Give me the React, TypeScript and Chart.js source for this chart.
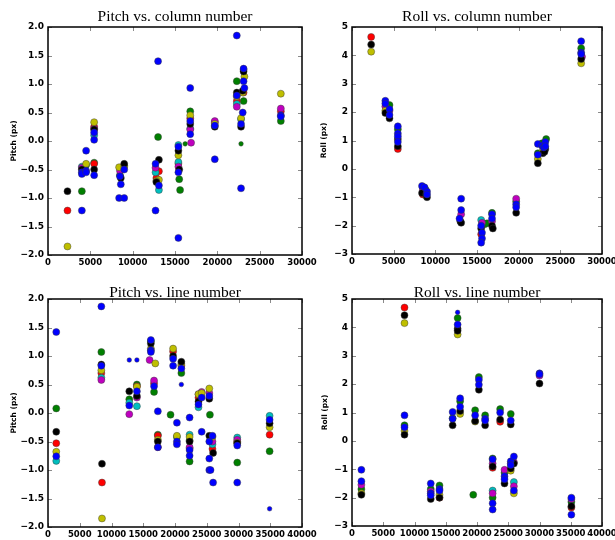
import { useEffect, useRef } from "react";
import { Chart, registerables } from "chart.js";
Chart.register(...registerables);

type P = [number, number];

const COLORS: Record<string, string> = {
  blue: "#0000ff",
  green: "#008000",
  red: "#ff0000",
  cyan: "#00bfbf",
  magenta: "#bf00bf",
  yellow: "#bfbf00",
  black: "#000000",
};

// ---------- Pitch vs. column number ----------
const pcGreen: P[] = [[4000,-0.88],[4500,-0.42],[5450,-0.38],[8500,-0.6],[9000,-0.43],[13000,0.07],[15500,-0.67],[15600,-0.86],[16800,0.52],[22300,1.05],[23100,1.25],[23100,0.7],[27500,0.35]];
const pcGreenSmall: P[] = [[16200,-0.05],[22800,-0.05]];
const pcRed: P[] = [[2300,-1.22],[5450,0.25],[5450,-0.4],[12800,-0.65],[13100,-0.53],[15400,-0.4],[16800,0.4],[19700,0.33],[22300,0.7],[23100,0.85],[27500,0.52]];
const pcCyan: P[] = [[4000,-0.45],[5450,0.1],[12700,-0.55],[13100,-0.86],[15400,-0.07],[15400,-0.37],[16800,0.22],[22300,0.65],[22800,0.38]];
const pcMagenta: P[] = [[4000,-0.47],[5450,0.22],[8500,-0.52],[12700,-0.47],[15400,-0.45],[16800,0.2],[16900,-0.03],[19700,0.35],[22300,0.6],[27500,0.57]];
const pcYellow: P[] = [[2300,-1.85],[4500,-0.4],[5450,0.33],[8400,-0.46],[9000,-0.45],[13100,-0.68],[12800,-0.7],[15400,-0.25],[16800,0.45],[19700,0.3],[22300,0.78],[22800,0.4],[23200,1.13],[23000,0.85],[27500,0.83]];
const pcBlack: P[] = [[2300,-0.88],[4000,-0.5],[5450,0.2],[5450,-0.5],[8600,-0.65],[9000,-0.4],[12800,-0.72],[13100,-0.33],[15400,-0.17],[15500,-0.5],[16800,0.3],[19700,0.25],[22300,0.85],[22800,0.25],[23100,1.22],[23000,0.88]];
const pcBlue: P[] = [[4000,-1.22],[4000,-0.55],[4000,-0.58],[4500,-0.52],[4500,-0.55],[4500,-0.17],[5450,0.15],[5450,0.02],[5450,-0.6],[8500,-0.62],[8600,-0.76],[8400,-1.0],[9000,-1.0],[9000,-0.5],[12700,-1.22],[12700,-0.4],[13000,1.4],[13100,-0.78],[15400,-1.7],[15400,-0.1],[15400,-0.55],[16800,0.93],[16800,0.35],[16800,0.12],[19700,0.27],[19700,-0.32],[22300,1.85],[22300,0.8],[22800,-0.83],[22800,0.3],[23100,1.27],[23100,1.05],[23200,0.93],[23000,0.5],[27500,0.45],[27500,0.43]];

// ---------- Roll vs. column number ----------
const rcGreen: P[] = [[4500,2.25],[5500,1.4],[8500,-0.65],[8800,-0.72],[15900,-1.95],[16200,-1.92],[16800,-1.55],[19700,-1.15],[22300,0.55],[22800,0.9],[23300,1.05],[27500,4.25]];
const rcRed: P[] = [[2300,4.65],[5500,0.7],[8500,-0.9],[15500,-2.3]];
const rcCyan: P[] = [[15500,-1.8]];
const rcMagenta: P[] = [[4000,2.2],[4500,2.05],[8500,-0.75],[13100,-1.6],[15600,-1.9],[16800,-1.85],[19700,-1.05],[27600,3.95]];
const rcYellow: P[] = [[2300,4.13],[4000,2.05],[8900,-0.95],[22300,0.35],[22900,0.65],[27500,3.72]];
const rcBlack: P[] = [[2300,4.38],[4000,1.97],[4500,1.78],[5500,1.05],[5500,0.8],[8400,-0.85],[8900,-0.9],[9000,-1.0],[13000,-1.85],[13100,-1.9],[15500,-2.1],[16800,-2.0],[16900,-2.1],[19700,-1.55],[22300,0.2],[22900,0.55],[23200,0.7],[23100,0.6],[27500,3.87]];
const rcBlue: P[] = [[4000,2.4],[4000,2.3],[4500,2.1],[4500,1.9],[5500,1.5],[5500,1.25],[5500,1.15],[5500,0.95],[8400,-0.6],[8700,-0.65],[9000,-0.8],[9000,-0.9],[13100,-1.05],[13100,-1.45],[12900,-1.75],[15500,-2.0],[15600,-2.25],[15600,-2.45],[15500,-2.6],[16800,-1.6],[16800,-1.75],[19700,-1.25],[19700,-1.35],[22300,0.88],[22300,0.5],[22800,0.82],[23000,0.75],[23200,0.95],[23200,0.8],[27500,4.5],[27500,4.1],[27500,4.05]];

// ---------- Pitch vs. line number ----------
const plGreen: P[] = [[1300,0.08],[8400,1.07],[12800,0.24],[14000,0.5],[16200,1.26],[16700,0.37],[17300,-0.38],[19300,-0.03],[20300,-0.42],[21000,0.7],[22300,-0.48],[22300,-0.85],[25500,-0.03],[29800,-0.87],[34900,-0.67]];
const plRed: P[] = [[1300,-0.53],[8400,0.7],[8500,-1.22],[14000,0.47],[16700,0.52],[17300,-0.4],[19700,1.08],[21000,0.83],[22300,-0.62],[23700,0.27],[25900,-0.63],[29800,-0.5],[34900,-0.38]];
const plCyan: P[] = [[1300,-0.84],[8400,0.62],[12800,0.18],[14000,0.12],[22300,-0.38],[23700,0.1],[25900,-0.55],[29800,-0.43],[34900,-0.05]];
const plMagenta: P[] = [[8400,0.58],[12800,-0.02],[14000,0.27],[16000,0.93],[16700,0.57],[17300,-0.6],[22300,-0.6],[24200,0.37],[23700,0.33],[25400,0.35],[25900,-0.5],[29800,-0.47]];
const plYellow: P[] = [[1300,-0.68],[8400,0.75],[8500,-1.85],[14000,0.46],[16200,1.13],[16900,0.87],[17300,-0.47],[19700,1.13],[20300,-0.4],[21000,0.86],[22300,-0.42],[23700,0.33],[24200,0.35],[25400,0.43],[25900,-0.42],[29800,-0.52],[34900,-0.25]];
const plBlack: P[] = [[1300,-0.33],[8400,0.85],[8500,-0.89],[12800,0.38],[14000,0.3],[16200,1.22],[17300,-0.5],[19700,1.0],[21000,0.9],[22300,-0.5],[23700,0.2],[25400,0.25],[25400,-0.4],[26000,-0.7],[29800,-0.53],[34900,-0.18]];
const plBlue: P[] = [[1300,1.42],[1300,-0.76],[8400,1.87],[8400,0.83],[12800,0.13],[14000,0.38],[16200,1.28],[16200,1.1],[16200,1.07],[16700,0.47],[17300,0.03],[17300,-0.6],[19700,0.95],[19700,0.83],[20300,-0.17],[20300,-0.5],[20300,-0.55],[21000,0.78],[22300,-0.08],[22300,-0.65],[22300,-0.75],[23700,0.15],[24200,0.27],[24200,-0.33],[25400,0.3],[25400,-0.5],[25400,-0.8],[25400,-1.0],[25600,-1.0],[25900,-0.4],[26000,-1.22],[29800,-0.57],[29800,-1.22],[34900,-0.12]];
const plBlueSmall: P[] = [[12800,0.93],[14000,0.93],[21000,0.5],[34900,-1.68]];

// ---------- Roll vs. line number ----------
const rlGreen: P[] = [[1500,-1.7],[8400,0.55],[12600,-1.7],[14000,-1.57],[16100,0.8],[16900,4.33],[17300,1.4],[19400,-1.9],[19700,1.08],[20300,2.25],[21300,0.9],[22500,-0.62],[22500,-2.0],[23700,1.12],[24400,-1.12],[25400,0.95],[35100,-2.15]];
const rlRed: P[] = [[8400,4.7],[14000,-2.0],[22500,-0.95],[23700,0.67],[35100,-2.35]];
const rlCyan: P[] = [[22500,-1.75],[25900,-1.45]];
const rlMagenta: P[] = [[1500,-1.55],[12600,-1.78],[22500,-0.8],[22500,-1.85],[24400,-1.02],[25400,-0.8],[25900,-0.75],[25900,-1.6],[30000,2.3],[35100,-2.05]];
const rlYellow: P[] = [[1500,-1.85],[8400,4.15],[8400,0.35],[14000,-1.9],[16900,3.75],[17300,0.95],[19700,0.68],[25400,-1.05],[25900,-1.85]];
const rlBlack: P[] = [[1500,-1.9],[8400,4.43],[8400,0.22],[12600,-2.05],[14000,-2.0],[16100,0.55],[16900,3.95],[16900,3.88],[17300,1.05],[19700,0.7],[20300,1.8],[21300,0.55],[22500,-0.9],[23700,0.75],[24400,-1.5],[25400,0.58],[25400,-0.97],[25900,-0.8],[30000,2.02],[35100,-2.3]];
const rlBlue: P[] = [[1500,-1.02],[1500,-1.42],[8400,0.9],[8400,0.48],[12600,-1.5],[12600,-1.85],[12600,-1.92],[14000,-1.7],[14000,-1.75],[16100,1.02],[16100,0.78],[16900,4.1],[17300,1.5],[17300,1.2],[19700,0.9],[20300,2.15],[20300,1.98],[21300,0.78],[21300,0.72],[22500,-0.65],[22500,-2.2],[22500,-2.42],[23700,1.0],[24400,-1.25],[24400,-1.35],[25400,0.72],[25400,-0.72],[25400,-0.85],[25900,-0.55],[25900,-1.75],[30000,2.38],[30000,2.35],[35100,-2.0],[35100,-2.6]];
const rlBlueSmall: P[] = [[16900,4.53]];

type Series = { color: string; points: P[]; small?: boolean };

interface Panel {
  title: string;
  ylabel: string;
  xmax: number;
  ymin: number;
  ymax: number;
  ystep: number;
  ydec: number;
  series: Series[];
  left: number;
  top: number;
  width: number;
  height: number;
  padTop: number;
  padRight: number;
  yAxisW: number;
  xAxisH: number;
  titleY: number;
  ylabelX: number;
}

const PANELS: Panel[] = [
  {
    title: "Pitch vs. column number", ylabel: "Pitch (px)", xmax: 30000, ymin: -2, ymax: 2, ystep: 0.5, ydec: 1,
    series: [
      { color: "green", points: pcGreen }, { color: "red", points: pcRed }, { color: "cyan", points: pcCyan },
      { color: "magenta", points: pcMagenta }, { color: "yellow", points: pcYellow }, { color: "black", points: pcBlack },
      { color: "blue", points: pcBlue }, { color: "green", points: pcGreenSmall, small: true },
    ],
    left: 0, top: 0, width: 330, height: 270, padTop: 27, padRight: 28, yAxisW: 48, xAxisH: 15, titleY: 21, ylabelX: 14,
  },
  {
    title: "Roll vs. column number", ylabel: "Roll (px)", xmax: 30000, ymin: -3, ymax: 5, ystep: 1, ydec: 0,
    series: [
      { color: "green", points: rcGreen }, { color: "red", points: rcRed }, { color: "cyan", points: rcCyan },
      { color: "magenta", points: rcMagenta }, { color: "yellow", points: rcYellow }, { color: "black", points: rcBlack },
      { color: "blue", points: rcBlue },
    ],
    left: 305, top: 0, width: 325, height: 270, padTop: 27, padRight: 28, yAxisW: 47, xAxisH: 16, titleY: 21, ylabelX: 19,
  },
  {
    title: "Pitch vs. line number", ylabel: "Pitch (px)", xmax: 40000, ymin: -2, ymax: 2, ystep: 0.5, ydec: 1,
    series: [
      { color: "green", points: plGreen }, { color: "red", points: plRed }, { color: "cyan", points: plCyan },
      { color: "magenta", points: plMagenta }, { color: "yellow", points: plYellow }, { color: "black", points: plBlack },
      { color: "blue", points: plBlue }, { color: "blue", points: plBlueSmall, small: true },
    ],
    left: 0, top: 270, width: 330, height: 270, padTop: 29, padRight: 28, yAxisW: 48, xAxisH: 13, titleY: 27, ylabelX: 14,
  },
  {
    title: "Roll vs. line number", ylabel: "Roll (px)", xmax: 40000, ymin: -3, ymax: 5, ystep: 1, ydec: 0,
    series: [
      { color: "green", points: rlGreen }, { color: "red", points: rlRed }, { color: "cyan", points: rlCyan },
      { color: "magenta", points: rlMagenta }, { color: "yellow", points: rlYellow }, { color: "black", points: rlBlack },
      { color: "blue", points: rlBlue }, { color: "blue", points: rlBlueSmall, small: true },
    ],
    left: 305, top: 270, width: 325, height: 270, padTop: 29, padRight: 28, yAxisW: 47, xAxisH: 14, titleY: 27, ylabelX: 20,
  },
];

function fmtY(v: number, dec: number) {
  const s = Math.abs(v).toFixed(dec);
  return (v < -1e-9 ? "\u2212" : "") + s;
}

function PanelChart({ p }: { p: Panel }) {
  const ref = useRef<HTMLCanvasElement | null>(null);
  useEffect(() => {
    if (!ref.current) return;
    const n = p.series.length;
    const deco = {
      id: "deco" + p.title,
      afterDraw(chart: any) {
        const ctx = chart.ctx as CanvasRenderingContext2D;
        const a = chart.chartArea;
        const xs = chart.scales.x;
        const ys = chart.scales.y;
        ctx.save();
        // inward tick marks on all four sides
        ctx.strokeStyle = "#8a8a8a";
        ctx.lineWidth = 1;
        ctx.beginPath();
        for (const t of xs.ticks) {
          const px = Math.round(xs.getPixelForValue(t.value)) + 0.5;
          ctx.moveTo(px, a.bottom);
          ctx.lineTo(px, a.bottom - 4);
          ctx.moveTo(px, a.top);
          ctx.lineTo(px, a.top + 4);
        }
        for (const t of ys.ticks) {
          const py = Math.round(ys.getPixelForValue(t.value)) + 0.5;
          ctx.moveTo(a.left, py);
          ctx.lineTo(a.left + 4, py);
          ctx.moveTo(a.right, py);
          ctx.lineTo(a.right - 4, py);
        }
        ctx.stroke();
        // frame
        ctx.strokeStyle = "#000";
        ctx.lineWidth = 1.5;
        ctx.strokeRect(a.left, a.top, a.right - a.left, a.bottom - a.top);
        // title
        ctx.fillStyle = "#000";
        ctx.font = '15.5px "Liberation Serif"';
        ctx.textAlign = "center";
        ctx.textBaseline = "alphabetic";
        ctx.fillText(p.title, (a.left + a.right) / 2, p.titleY);
        // y label
        ctx.font = 'bold 7.5px "DejaVu Sans"';
        ctx.translate(p.ylabelX, (a.top + a.bottom) / 2);
        ctx.rotate(-Math.PI / 2);
        ctx.textBaseline = "middle";
        ctx.fillText(p.ylabel, 0, 0);
        ctx.restore();
      },
    };
    const chart = new Chart(ref.current, {
      type: "scatter",
      data: {
        datasets: p.series.map((s, i) => ({
          label: s.color,
          data: s.points.map(([x, y]) => ({ x, y })),
          backgroundColor: COLORS[s.color],
          borderColor: "rgba(60,60,60,0.45)",
          borderWidth: 1,
          pointRadius: s.small ? 2.3 : 3.5,
          pointHoverRadius: s.small ? 2.3 : 3.5,
          order: n - i,
        })),
      },
      options: {
        responsive: false,
        animation: false,
        events: [],
        layout: { padding: { left: 0, right: p.padRight, top: p.padTop, bottom: 0 } },
        plugins: { legend: { display: false }, tooltip: { enabled: false }, title: { display: false } },
        scales: {
          x: {
            type: "linear",
            min: 0,
            max: p.xmax,
            grid: { display: false, drawTicks: false },
            border: { display: false },
            ticks: {
              stepSize: 5000,
              autoSkip: false,
              maxRotation: 0,
              minRotation: 0,
              padding: 3,
              color: "#000",
              font: { family: "DejaVu Sans", size: 8.5, weight: "bold" },
              callback: (v: any) => String(v),
            },
            afterFit: (s: any) => { s.height = p.xAxisH; },
          },
          y: {
            type: "linear",
            min: p.ymin,
            max: p.ymax,
            grid: { display: false, drawTicks: false },
            border: { display: false },
            ticks: {
              stepSize: p.ystep,
              autoSkip: false,
              padding: 4,
              color: "#000",
              font: { family: "DejaVu Sans", size: 9, weight: "bold" },
              callback: (v: any) => fmtY(Number(v), p.ydec),
            },
            afterFit: (s: any) => { s.width = p.yAxisW; },
          },
        },
      },
      plugins: [deco],
    } as any);
    return () => chart.destroy();
  }, [p]);
  return (
    <canvas
      ref={ref}
      width={p.width}
      height={p.height}
      style={{ position: "absolute", left: p.left, top: p.top, width: p.width, height: p.height }}
    />
  );
}

export default function App() {
  return (
    <div style={{ position: "absolute", left: 0, top: 0, width: 615, height: 540, overflow: "hidden", background: "#fff" }}>
      {PANELS.map((p) => (
        <PanelChart key={p.title} p={p} />
      ))}
    </div>
  );
}
